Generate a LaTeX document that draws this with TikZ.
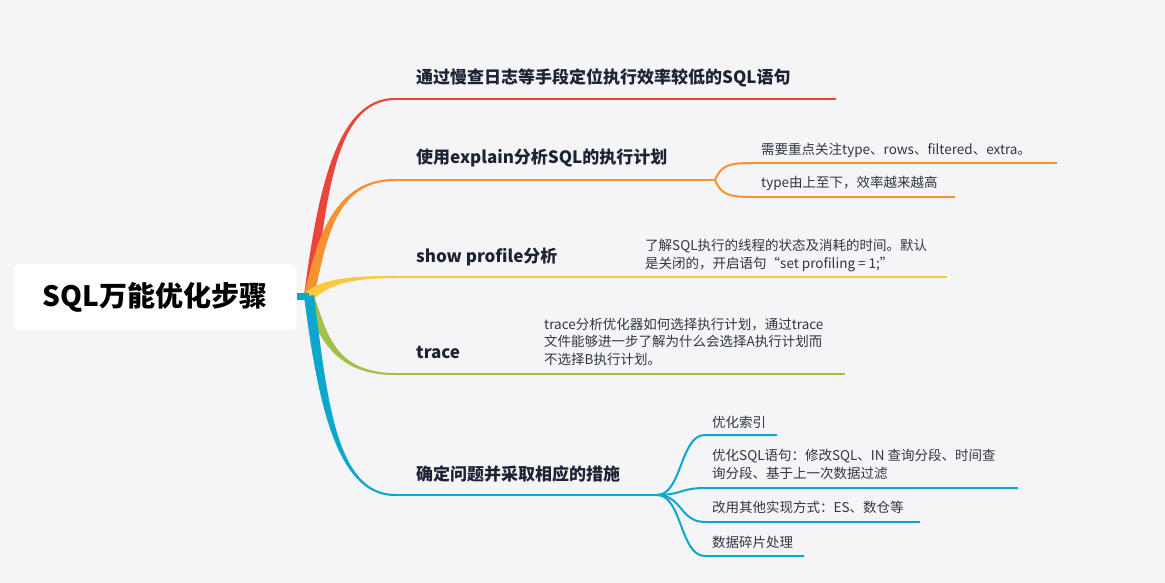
\documentclass[tikz,border=0pt]{standalone}
\usepackage{fontspec}
\setmainfont{Noto Sans CJK SC}
\usetikzlibrary{calc}
\definecolor{mapbg}{RGB}{245,245,247}
\definecolor{mapred}{RGB}{235,68,58}
\definecolor{maporange}{RGB}{247,146,48}
\definecolor{mapyellow}{RGB}{252,200,60}
\definecolor{mapgreen}{RGB}{162,192,72}
\definecolor{mapblue}{RGB}{12,167,204}
\definecolor{labeldark}{RGB}{28,36,52}
\definecolor{notegray}{RGB}{48,54,66}
\tikzset{
  root-box/.style={
    fill=white,
    rounded corners=6pt,
    minimum width=283pt,
    minimum height=66pt,
    font=\bfseries\fontsize{28}{32}\selectfont,
    text=black
  },
  main-label/.style={anchor=base west, inner sep=0pt, font=\bfseries\fontsize{17}{20}\selectfont, text=labeldark},
  note/.style={anchor=base west, inner sep=0pt, align=left, font=\fontsize{13.5}{17.5}\selectfont, text=notegray},
  twig/.style={line width=2pt}
}
\newcommand{\mainbranch}[3]{
  \coordinate (c1) at (322,{296+0.5*(#2-296)});
  \coordinate (c2) at (335,#2);
  \coordinate (e) at (395,#2);
  \coordinate (tip) at (#3,#2);
  \coordinate (sa) at ($(hub)!5pt!90:(c1)$);
  \coordinate (sb) at ($(hub)!5pt!-90:(c1)$);
  \fill[#1] (sa) .. controls ($(c1)+(sa)-(hub)$) and ($(c2)+(0,-1.3)$) .. ($(e)+(0,-1)$)
    -- ($(e)+(0,1)$) .. controls ($(c2)+(0,1.3)$) and ($(c1)+(sb)-(hub)$) .. (sb) -- cycle;
  \draw[#1, twig] (e) -- (tip);
}

\begin{document}
\begin{tikzpicture}[x=1pt,y=-1pt]
  \fill[mapbg] (0,0) rectangle (1165,583);

  % Root
  \node[root-box] (root) at (155,297) {SQL万能优化步骤};
  \coordinate (hub) at (309,296);

  % Main branches
  \foreach \col/\yy/\xx in {mapred/99/836, maporange/180/715, mapyellow/277/947, mapgreen/374/845, mapblue/495/657} {
    \mainbranch{\col}{\yy}{\xx}
  }
  \draw[mapblue, line width=7pt] (root.east |- hub) -- (hub);

  % Branch labels
  \node[main-label] (l1) at (416,84) {通过慢查日志等手段定位执行效率较低的SQL语句};
  \node[main-label] (l2) at (416,164) {使用explain分析SQL的执行计划};
  \node[main-label] (l3) at (416,262) {show profile分析};
  \node[main-label] (l4) at (416,358) {trace};
  \node[main-label] (l5) at (416,480) {确定问题并采取相应的措施};

  % explain
  \coordinate (o-split) at (715,180);
  \coordinate (o-end1) at (1057,163);
  \coordinate (o-end2) at (955,197);
  \draw[maporange, twig] (o-split) .. controls (721,165) and (730,163) .. (752,163) -- (o-end1);
  \draw[maporange, twig] (o-split) .. controls (721,195) and (730,197) .. (752,197) -- (o-end2);
  \node[note] (n21) at (761,154) {需要重点关注type、rows、filtered、extra。};
  \node[note] (n22) at (761,188) {type由上至下，效率越来越高};

  % profile, trace (base = last line)
  \node[note] (n31) at (645,268) {了解SQL执行的线程的状态及消耗的时间。默认\\是关闭的，开启语句“set profiling = 1;”};
  \node[note] (n41) at (544,364) {trace分析优化器如何选择执行计划，通过trace\\文件能够进一步了解为什么会选择A执行计划而\\不选择B执行计划。};

  % measures
  \coordinate (b-split) at (657,495);
  \foreach \yy/\xx in {435/777, 488/1018, 522/920, 556/804} {
    \draw[mapblue, twig] (b-split) .. controls (682,495) and (680,\yy) .. (705,\yy) -- (\xx,\yy);
  }
  \node[note] (n51) at (712,427) {优化索引};
  \node[note] (n52) at (712,478) {优化SQL语句：修改SQL、IN 查询分段、时间查\\询分段、基于上一次数据过滤};
  \node[note] (n53) at (712,512) {改用其他实现方式：ES、数仓等};
  \node[note] (n54) at (712,547) {数据碎片处理};
\end{tikzpicture}
\end{document}
